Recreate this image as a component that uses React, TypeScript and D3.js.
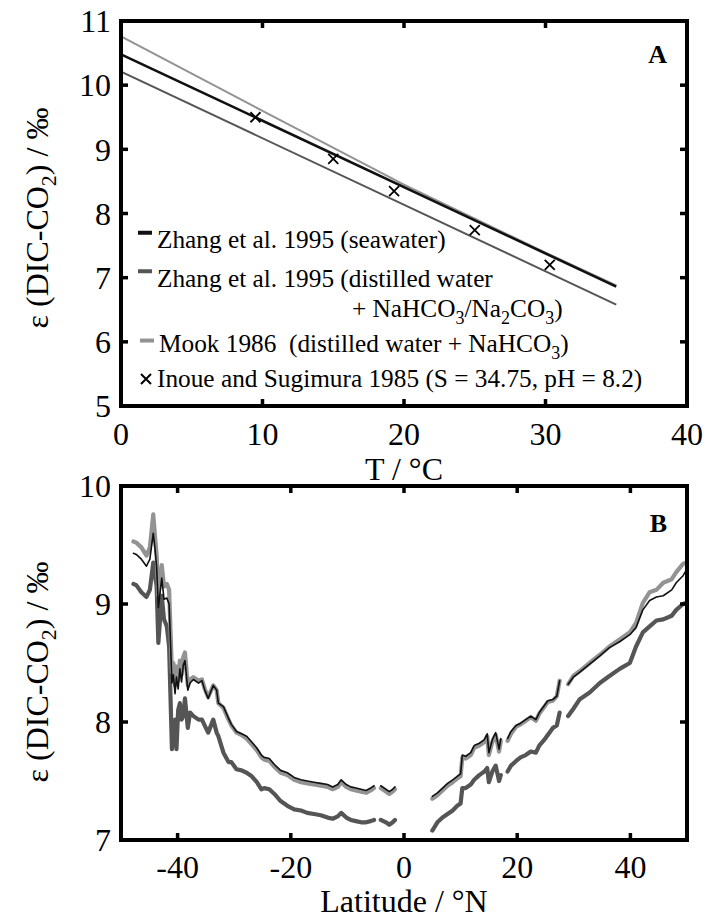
import React from "react";
import * as d3 from "d3";

// ---------- Panel A data ----------
const tempTicks = [0, 10, 20, 30, 40];
const epsTicksA = [5, 6, 7, 8, 9, 10, 11];
const zhangSeawaterT = [0, 35];
const zhangSeawaterEps = [10.48, 6.86];
const zhangDistilledT = [0, 35];
const zhangDistilledEps = [10.21, 6.58];
const mookT = [0, 10, 20, 30, 35];
const mookEps = [10.76, 9.6, 8.45, 7.39, 6.88];
const inoueT = [9.5, 15.0, 19.3, 25.0, 30.3];
const inoueEps = [9.5, 8.85, 8.35, 7.74, 7.2];

// ---------- Panel B data (null = gap in the record) ----------
const latTicks = [-40, -20, 0, 20, 40];
const epsTicksB = [7, 8, 9, 10];
const latitude = [
  -47.8, -47.3, -46.4, -45.5, -44.9, -44.3, -44.0, -43.7, -43.4, -42.8,
  -42.4, -41.9, -41.5, -41.0, -40.75, -40.45, -40.2, -39.9, -39.6, -39.3,
  -39.0, -38.7, -38.2, -37.8, -37.2, -36.3, -35.7, -35.2, -34.6, -33.7,
  -33.1, -32.8, -31.9, -31.0, -30.5, -29.6, -28.7, -27.8, -26.9, -26.0,
  -25.2, -24.7, -23.8, -22.9, -21.8, -20.6, -19.4, -18.2, -17.1, -15.9,
  -14.7, -13.5, -12.6, -11.7, -11.1, -10.2, -9.4, -8.5, -7.6, -6.7,
  -5.9, -5.3,
  null,
  -4.1, -3.2, -2.6, -2.0, -1.6,
  null,
  5.0, 5.9, 6.8, 7.7, 8.6, 9.4, 10.0, 10.3, 10.9, 11.8, 12.4, 13.3, 14.2, 14.7, 15.0, 15.6, 16.2, 16.8, 17.1,
  null,
  18.3, 18.9, 19.8, 20.6, 21.5, 22.4, 23.3, 23.9, 24.8, 25.4, 26.3, 27.0, 27.5,
  null,
  29.0, 29.9, 31.0, 32.8, 34.6, 36.3, 38.1, 39.9, 41.0, 42.2, 43.4, 44.6, 45.8, 47.3, 48.1, 49.3, 49.8,
];
const mookLat = [
  9.53, 9.52, 9.48, 9.41, 9.48, 9.76, 9.58, 9.41, 9.07, 9.33,
  9.15, 9.17, 9.12, 8.42, 8.5, 8.31, 8.47, 8.35, 8.52, 8.4,
  8.55, 8.59, 8.31, 8.36, 8.38, 8.35, 8.36, 8.28, 8.21, 8.31,
  8.27, 8.16, 8.12, 8.02, 7.97, 7.91, 7.89, 7.86, 7.81, 7.76,
  7.7, 7.68, 7.67, 7.62, 7.57, 7.55, 7.51, 7.49, 7.48, 7.47,
  7.46, 7.45, 7.43, 7.45, 7.49, 7.45, 7.43, 7.42, 7.41, 7.4,
  7.42, 7.44,
  null,
  7.44, 7.41, 7.39, 7.41, 7.43,
  null,
  7.35, 7.38, 7.42, 7.46, 7.49, 7.52, 7.54, 7.7, 7.69, 7.72, 7.78, 7.8, 7.83, 7.88, 7.72, 7.83, 7.89, 7.75, 7.84,
  null,
  7.84, 7.9, 7.96, 7.98, 8.01, 8.04, 8.01, 8.07, 8.13, 8.17, 8.18, 8.22, 8.35,
  null,
  8.32, 8.39, 8.43, 8.5, 8.57, 8.64, 8.7, 8.76, 8.84, 9.01, 9.1, 9.12, 9.18, 9.21, 9.27, 9.34, 9.35,
];
const seawaterLat = [
  9.43, 9.42, 9.38, 9.32, 9.38, 9.6, 9.47, 9.31, 8.97, 9.22,
  9.04, 9.05, 9.0, 8.33, 8.4, 8.24, 8.38, 8.28, 8.45, 8.34,
  8.48, 8.52, 8.27, 8.33, 8.36, 8.33, 8.35, 8.27, 8.2, 8.31,
  8.27, 8.16, 8.13, 8.03, 7.98, 7.92, 7.9, 7.88, 7.83, 7.78,
  7.72, 7.7, 7.69, 7.64, 7.59, 7.57, 7.53, 7.51, 7.5, 7.49,
  7.48, 7.47, 7.45, 7.47, 7.51, 7.47, 7.45, 7.44, 7.43, 7.42,
  7.44, 7.46,
  null,
  7.46, 7.43, 7.41, 7.43, 7.45,
  null,
  7.37, 7.4, 7.44, 7.48, 7.51, 7.54, 7.56, 7.72, 7.71, 7.74, 7.8, 7.82, 7.85, 7.9, 7.74, 7.85, 7.91, 7.77, 7.86,
  null,
  7.86, 7.92, 7.97, 7.99, 8.02, 8.05, 8.02, 8.08, 8.14, 8.18, 8.19, 8.22, 8.35,
  null,
  8.32, 8.38, 8.42, 8.49, 8.56, 8.63, 8.68, 8.74, 8.8, 8.95, 9.03, 9.06, 9.07, 9.12, 9.18, 9.24, 9.28,
];
const distilledLat = [
  9.17, 9.16, 9.1, 9.06, 9.12, 9.35, 9.25, 9.15, 8.67, 9.07,
  8.87, 8.81, 8.64, 7.77, 7.95, 8.02, 7.77, 8.1, 8.16, 8.02,
  8.05, 8.2, 7.95, 8.08, 8.05, 8.02, 8.02, 7.97, 7.91, 8.02,
  7.91, 7.88, 7.74, 7.66, 7.66, 7.6, 7.59, 7.57, 7.54, 7.49,
  7.43, 7.44, 7.43, 7.39, 7.33, 7.29, 7.26, 7.25, 7.23, 7.22,
  7.21, 7.19, 7.18, 7.2, 7.23, 7.19, 7.17, 7.16, 7.15, 7.15,
  7.16, 7.17,
  null,
  7.17, 7.15, 7.13, 7.15, 7.17,
  null,
  7.08, 7.15, 7.19, 7.22, 7.25, 7.29, 7.31, 7.44, 7.44, 7.47, 7.51, 7.55, 7.58, 7.61, 7.49, 7.58, 7.63, 7.5, 7.55,
  null,
  7.58, 7.63, 7.67, 7.7, 7.72, 7.75, 7.74, 7.8, 7.85, 7.89, 7.95, 7.97, 8.08,
  null,
  8.05, 8.11, 8.19, 8.25, 8.33, 8.39, 8.45, 8.5, 8.64, 8.76, 8.81, 8.86, 8.87, 8.9, 8.95, 9.0, 9.01,
];

const FONT = "'Liberation Serif', 'Times New Roman', Times, serif";
const BLACK = "#111";
const DARK = "#555";
const LIGHT = "#939393";

const W = 718;
const H = 921;
const L = 121;
const R = 687;
const A_TOP = 21;
const A_BOT = 406;
const B_TOP = 486;
const B_BOT = 840;

const xA = d3.scaleLinear().domain([0, 40]).range([L, R]);
const yA = d3.scaleLinear().domain([5, 11]).range([A_BOT, A_TOP]);
const xB = d3.scaleLinear().domain([-50, 50]).range([L, R]);
const yB = d3.scaleLinear().domain([7, 10]).range([B_BOT, B_TOP]);

const zip = (xs: (number | null)[], ys: (number | null)[]) =>
  xs.map((x, i) => [x, ys[i]] as [number | null, number | null]);

function Frame({ x, y, top, bot, xt, yt }: any) {
  const tl = 7;
  return (
    <g>
      {xt.map((t: number) => {
        const px = x(t);
        if (px <= L + 1 || px >= R - 1) return null;
        return (
          <g key={"x" + t}>
            <line x1={px} x2={px} y1={bot} y2={bot - tl} stroke="#000" strokeWidth={3.5} />
            <line x1={px} x2={px} y1={top} y2={top + tl} stroke="#000" strokeWidth={3.5} />
          </g>
        );
      })}
      {yt.map((t: number) => {
        const py = y(t);
        if (py <= top + 1 || py >= bot - 1) return null;
        return (
          <g key={"y" + t}>
            <line x1={L} x2={L + tl} y1={py} y2={py} stroke="#000" strokeWidth={3.5} />
            <line x1={R} x2={R - tl} y1={py} y2={py} stroke="#000" strokeWidth={3.5} />
          </g>
        );
      })}
      <rect x={L} y={top} width={R - L} height={bot - top} fill="none" stroke="#000" strokeWidth={4} />
    </g>
  );
}

export default function App() {
  const lineA = d3
    .line<[number, number]>()
    .x((d) => xA(d[0]))
    .y((d) => yA(d[1]));
  const lineB = d3
    .line<[number | null, number | null]>()
    .defined((d) => d[0] != null && d[1] != null)
    .x((d) => xB(d[0] as number))
    .y((d) => yB(d[1] as number));

  const clipB = "clipB";
  const tickFont = 32;
  const lf = 25.3;

  return (
    <svg
      width={W}
      height={H}
      style={{ position: "absolute", left: 0, top: 0, background: "#fff" }}
      fontFamily={FONT}
    >
      <defs>
        <clipPath id={clipB}>
          <rect x={L} y={B_TOP} width={R - L} height={B_BOT - B_TOP} />
        </clipPath>
      </defs>
      <rect x={0} y={0} width={W} height={H} fill="#fff" />

      {/* ---------------- Panel A ---------------- */}
      <path d={lineA(zip(mookT, mookEps) as any) || ""} fill="none" stroke={LIGHT} strokeWidth={2} />
      <path d={lineA(zip(zhangDistilledT, zhangDistilledEps) as any) || ""} fill="none" stroke={DARK} strokeWidth={2} />
      <path d={lineA(zip(zhangSeawaterT, zhangSeawaterEps) as any) || ""} fill="none" stroke={BLACK} strokeWidth={2.6} />
      {inoueT.map((t, i) => {
        const cx = xA(t);
        const cy = yA(inoueEps[i]);
        const s = 5;
        return (
          <path
            key={"c" + i}
            d={`M${cx - s},${cy - s}L${cx + s},${cy + s}M${cx - s},${cy + s}L${cx + s},${cy - s}`}
            stroke="#000"
            strokeWidth={1.8}
          />
        );
      })}
      <Frame x={xA} y={yA} top={A_TOP} bot={A_BOT} xt={tempTicks} yt={epsTicksA} />
      {tempTicks.map((t) => (
        <text key={"tx" + t} x={xA(t)} y={445} fontSize={tickFont} textAnchor="middle">
          {t}
        </text>
      ))}
      {epsTicksA.map((t) => (
        <text key={"ty" + t} x={111} y={yA(t)} dy="0.35em" fontSize={tickFont} textAnchor="end">
          {t}
        </text>
      ))}
      <text x={(L + R) / 2} y={480} fontSize={32} textAnchor="middle">
        T / °C
      </text>
      <text transform={`translate(48, ${218}) rotate(-90)`} fontSize={32} textAnchor="middle">
        ε (DIC-CO<tspan dy={8} fontSize={22}>2</tspan>
        <tspan dy={-8}>) / ‰</tspan>
      </text>
      <text x={667} y={63} fontSize={26} fontWeight="bold" textAnchor="end">
        A
      </text>

      {/* legend */}
      <g fontSize={lf}>
        <line x1={138} x2={152} y1={yA(7.7)} y2={yA(7.7)} stroke={BLACK} strokeWidth={4} />
        <text x={157} y={248}>Zhang et al. 1995 (seawater)</text>
        <line x1={138} x2={152} y1={yA(7.1)} y2={yA(7.1)} stroke={DARK} strokeWidth={4} />
        <text x={157} y={287}>Zhang et al. 1995 (distilled water</text>
        <text x={352} y={317}>
          + NaHCO<tspan dy={7} fontSize={18}>3</tspan>
          <tspan dy={-7}>/Na</tspan>
          <tspan dy={7} fontSize={18}>2</tspan>
          <tspan dy={-7}>CO</tspan>
          <tspan dy={7} fontSize={18}>3</tspan>
          <tspan dy={-7}>)</tspan>
        </text>
        <line x1={140} x2={154} y1={yA(6.02)} y2={yA(6.02)} stroke={LIGHT} strokeWidth={4} />
        <text x={159} y={352} style={{ whiteSpace: "pre" }}>
          {"Mook 1986  (distilled water + NaHCO"}
          <tspan dy={7} fontSize={18}>3</tspan>
          <tspan dy={-7}>)</tspan>
        </text>
        <path
          d={`M${141},${374}L${151},${384}M${141},${384}L${151},${374}`}
          stroke="#000"
          strokeWidth={2}
        />
        <text x={157} y={387}>Inoue and Sugimura 1985 (S = 34.75, pH = 8.2)</text>
      </g>

      {/* ---------------- Panel B ---------------- */}
      <g clipPath={`url(#${clipB})`} strokeLinejoin="round" strokeLinecap="round">
        <path d={lineB(zip(latitude, distilledLat)) || ""} fill="none" stroke={DARK} strokeWidth={4.2} />
        <path d={lineB(zip(latitude, mookLat)) || ""} fill="none" stroke={LIGHT} strokeWidth={4.2} />
        <path d={lineB(zip(latitude, seawaterLat)) || ""} fill="none" stroke={BLACK} strokeWidth={1.6} />
      </g>
      <Frame x={xB} y={yB} top={B_TOP} bot={B_BOT} xt={latTicks} yt={epsTicksB} />
      {latTicks.map((t) => (
        <text key={"bx" + t} x={xB(t)} y={878} fontSize={tickFont} textAnchor="middle">
          {t}
        </text>
      ))}
      {epsTicksB.map((t) => (
        <text key={"by" + t} x={111} y={yB(t)} dy="0.35em" fontSize={tickFont} textAnchor="end">
          {t}
        </text>
      ))}
      <text x={(L + R) / 2} y={912} fontSize={32} textAnchor="middle">
        Latitude / °N
      </text>
      <text transform={`translate(48, ${672}) rotate(-90)`} fontSize={32} textAnchor="middle">
        ε (DIC-CO<tspan dy={8} fontSize={22}>2</tspan>
        <tspan dy={-8}>) / ‰</tspan>
      </text>
      <text x={667} y={532} fontSize={26} fontWeight="bold" textAnchor="end">
        B
      </text>
    </svg>
  );
}
